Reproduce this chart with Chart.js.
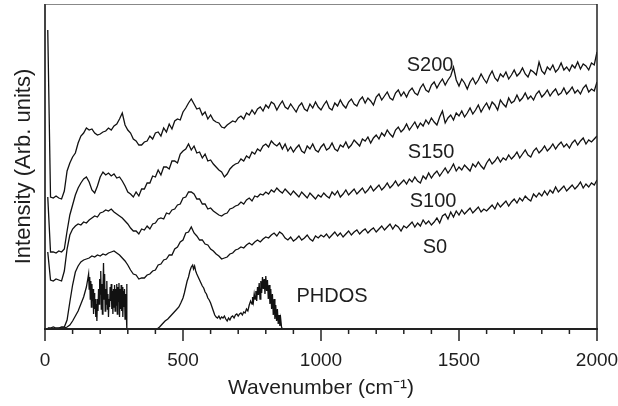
<!DOCTYPE html>
<html>
<head>
<meta charset="utf-8">
<script src="https://cdn.jsdelivr.net/npm/chart.js"></script>
<style>
  html, body { margin: 0; padding: 0; background: #fff; }
  #wrap { width: 618px; height: 406px; }
</style>
</head>
<body>
<div id="wrap"><canvas id="raman" width="618" height="406"></canvas></div>
<script>
// wavenumber grid of the measured spectra (cm-1)
const wavenumber = [
  10, 20, 30, 40, 50, 60, 70, 80, 90, 100,
  110, 120, 130, 140, 150, 160, 170, 180, 190, 200,
  210, 220, 230, 240, 250, 260, 270, 280, 290, 300,
  310, 320, 330, 340, 350, 360, 370, 380, 390, 400,
  410, 420, 430, 440, 450, 460, 470, 480, 490, 500,
  510, 520, 530, 540, 550, 560, 570, 580, 590, 600,
  610, 620, 630, 640, 650, 660, 670, 680, 690, 700,
  710, 720, 730, 740, 750, 760, 770, 780, 790, 800,
  810, 820, 830, 840, 850, 860, 870, 880, 890, 900,
  910, 920, 930, 940, 950, 960, 970, 980, 990, 1000,
  1010, 1020, 1030, 1040, 1050, 1060, 1070, 1080, 1090, 1100,
  1110, 1120, 1130, 1140, 1150, 1160, 1170, 1180, 1190, 1200,
  1210, 1220, 1230, 1240, 1250, 1260, 1270, 1280, 1290, 1300,
  1310, 1320, 1330, 1340, 1350, 1360, 1370, 1380, 1390, 1400,
  1410, 1420, 1430, 1440, 1450, 1460, 1470, 1480, 1490, 1500,
  1510, 1520, 1530, 1540, 1550, 1560, 1570, 1580, 1590, 1600,
  1610, 1620, 1630, 1640, 1650, 1660, 1670, 1680, 1690, 1700,
  1710, 1720, 1730, 1740, 1750, 1760, 1770, 1780, 1790, 1800,
  1810, 1820, 1830, 1840, 1850, 1860, 1870, 1880, 1890, 1900,
  1910, 1920, 1930, 1940, 1950, 1960, 1970, 1980, 1990, 2000
];

// intensities (arb. units, curves already offset as in the figure)
const s200 = [
  299, 132, 131, 133, 131, 130, 138, 158, 166, 172,
  176, 186, 193, 196, 201, 199, 200, 196, 194, 195,
  197, 198, 201, 199, 203, 205, 210, 216, 204, 199,
  196, 190, 188, 184, 184, 187, 188, 193, 190, 196,
  197, 193, 201, 197, 205, 200, 208, 210, 209, 217,
  221, 226, 230, 225, 220, 221, 214, 217, 210, 214,
  209, 207, 206, 202, 201, 204, 206, 208, 207, 211,
  213, 210, 216, 214, 219, 215, 220, 222, 218, 224,
  221, 227, 225, 219, 224, 228, 222, 220, 225, 221,
  217, 223, 226, 220, 218, 225, 221, 227, 222, 219,
  224, 228, 221, 219, 226, 223, 229, 224, 221, 227,
  230, 225, 223, 229, 232, 226, 231, 228, 224, 232,
  235, 229, 233, 237, 231, 229, 236, 239, 233, 237,
  232, 238, 241, 236, 234, 241, 245, 239, 237, 244,
  247, 241, 246, 250, 244, 249, 253, 262, 249, 243,
  250, 246, 240, 247, 251, 245, 249, 255, 250, 246,
  253, 258, 251, 248, 255, 252, 257, 250, 254, 259,
  253, 256, 261, 255, 252, 259, 257, 254, 267, 258,
  255, 262, 259, 264, 257, 260, 266, 259, 262, 258,
  264, 261, 267, 260, 265, 263, 259, 266, 264, 277
];

const s150 = [
  132, 77, 77, 76, 78, 77, 80, 98, 114, 124,
  134, 141, 146, 150, 152, 147, 139, 136, 143, 152,
  157, 154, 156, 153, 155, 151, 152, 148, 143, 137,
  135, 132, 137, 133, 140, 140, 146, 146, 153, 152,
  159, 154, 162, 162, 160, 168, 168, 166, 175, 178,
  180, 185, 179, 183, 176, 177, 171, 175, 168, 169,
  165, 162, 159, 157, 152, 155, 160, 163, 165, 166,
  170, 168, 173, 171, 177, 175, 180, 178, 183, 185,
  182, 188, 185, 183, 186, 180, 185, 178, 182, 177,
  181, 184, 178, 176, 183, 180, 185, 179, 177, 182,
  185, 179, 181, 186, 180, 178, 184, 182, 187, 181,
  184, 189, 186, 183, 190, 188, 192, 186, 191, 194,
  190, 196, 193, 199, 195, 192, 199, 202, 197, 200,
  205, 199, 203, 207, 201, 206, 203, 209, 205, 211,
  207, 204, 212, 218, 206, 211, 214, 209, 216, 213,
  218, 212, 216, 221, 215, 219, 224, 217, 222, 226,
  220, 227, 224, 219, 229, 225, 222, 231, 226, 228,
  234, 228, 231, 236, 230, 233, 229, 235, 238, 232,
  235, 239, 233, 237, 240, 234, 236, 241, 235, 238,
  242, 236, 239, 235, 241, 244, 237, 240, 238, 247
];

const s100 = [
  77, 49, 48, 50, 49, 48, 58, 80, 94, 100,
  103, 105, 104, 107, 106, 109, 111, 113, 112, 116,
  117, 119, 118, 120, 117, 115, 113, 111, 108, 105,
  101, 98, 98, 95, 100, 99, 103, 100, 105, 106,
  110, 111, 110, 116, 115, 119, 120, 124, 125, 131,
  132, 137, 137, 135, 130, 130, 125, 125, 120, 121,
  118, 116, 114, 113, 115, 116, 120, 121, 123, 124,
  127, 125, 129, 131, 128, 133, 132, 135, 134, 137,
  135, 139, 137, 141, 138, 136, 140, 137, 134, 138,
  135, 132, 137, 134, 131, 136, 133, 130, 134, 132,
  136, 133, 131, 137, 134, 138, 132, 135, 139, 134,
  137, 140, 135, 138, 141, 136, 139, 143, 138, 141,
  144, 139, 142, 146, 141, 144, 148, 143, 146, 149,
  145, 150, 147, 152, 148, 146, 153, 150, 156, 151,
  155, 158, 153, 157, 161, 156, 160, 165, 158, 162,
  159, 164, 161, 158, 165, 162, 167, 163, 160, 166,
  170, 165, 168, 172, 167, 171, 169, 174, 170, 173,
  177, 171, 175, 179, 174, 172, 178, 181, 176, 179,
  183, 178, 181, 185, 180, 184, 187, 182, 185, 181,
  186, 189, 184, 188, 191, 185, 189, 187, 190, 193
];

const s0 = [
  1, 1, 2, 1, 1, 2, 2, 9, 27, 44,
  57, 63, 67, 69, 70, 71, 73, 72, 74, 73,
  75, 74, 76, 77, 78, 76, 74, 71, 68, 64,
  59, 55, 54, 50, 51, 51, 54, 55, 58, 59,
  64, 65, 69, 70, 74, 74, 80, 82, 87, 89,
  96, 97, 102, 96, 93, 89, 89, 85, 84, 80,
  78, 75, 73, 70, 71, 72, 75, 76, 79, 80,
  82, 81, 84, 86, 84, 87, 89, 87, 90, 92,
  91, 94, 96, 93, 97, 95, 91, 89, 92, 88,
  90, 93, 89, 91, 94, 90, 88, 93, 91, 94,
  92, 95, 91, 94, 97, 93, 96, 92, 95, 98,
  94, 97, 99, 95, 98, 100, 96, 99, 101, 97,
  100, 103, 99, 102, 105, 100, 104, 102, 98, 103,
  101, 104, 107, 102, 106, 103, 109, 105, 108, 104,
  107, 111, 106, 113, 115, 110, 117, 112, 118, 114,
  119, 115, 118, 121, 116, 119, 122, 117, 120, 118,
  121, 124, 120, 126, 122, 125, 128, 123, 127, 130,
  126, 131, 128, 133, 130, 128, 135, 132, 136, 133,
  138, 134, 139, 136, 142, 137, 140, 143, 138, 141,
  144, 140, 143, 147, 141, 145, 142, 146, 144, 149
];

// calculated phonon density of states (gap between 300 and 400 cm-1)
const phdosWavenumber = [
  20, 40, 60, 70, 80, 90, 100, 110, 120, 130, 140, 150, 155, 158,
  160, 162, 164, 166, 168, 170, 172, 174, 176, 178, 180, 182, 184, 186, 188,
  190, 192, 194, 196, 198, 200, 202, 204, 206, 208, 210, 212, 214, 216, 218,
  220, 222, 224, 226, 228, 230, 232, 234, 236, 238, 240, 242, 244, 246, 248,
  250, 252, 254, 256, 258, 260, 262, 264, 266, 268, 270, 272, 274, 276, 278,
  280, 282, 284, 286, 288, 290, 292, 294, 296, 297, 350,
  406, 415, 425, 435, 445, 455, 465, 475, 485, 492, 500, 505, 510, 515, 520,
  525, 530, 535, 538, 542, 546, 550, 555, 560, 565, 570, 575, 580, 585, 590,
  595, 600, 605, 610, 615, 620, 625, 630, 635, 640, 645, 650, 655, 660, 665,
  670, 675, 680, 685, 690, 695, 700, 705, 710, 715, 720, 725, 730, 735, 740,
  745, 750, 752, 755, 758, 761, 764, 767, 770, 773, 776, 779, 782, 785, 788,
  791, 794, 797, 800, 803, 806, 809, 812, 815, 818, 821, 824, 827, 830, 833,
  836, 839, 842, 845, 848, 851, 854, 857, 860
];
const phdosIntensity = [
  0, 0, 1, 1, 2, 4, 8, 13, 18, 25, 32, 42, 50, 55,
  40, 52, 30, 48, 22, 45, 28, 40, 15, 36, 20, 30, 12, 25, 8,
  30, 18, 40, 25, 50, 35, 58, 20, 45, 15, 38, 66, 30, 55, 18,
  40, 25, 48, 20, 35, 12, 30, 22, 42, 28, 45, 20, 38, 15, 40,
  22, 44, 18, 40, 24, 45, 15, 42, 28, 46, 12, 40, 20, 44, 18,
  42, 12, 38, 22, 40, 10, 35, 20, 45, 0, null,
  0, 2, 5, 8, 10, 13, 16, 19, 22, 26, 31, 36, 42, 48, 52,
  58, 62, 64, 60, 63, 58, 55, 52, 49, 46, 43, 41, 37, 35, 31,
  29, 26, 22, 18, 14, 12, 11, 13, 10, 12, 11, 13, 10, 8, 11,
  9, 12, 13, 11, 14, 15, 13, 15, 16, 14, 17, 16, 20, 18, 24,
  28, 25, 32, 27, 35, 30, 38, 28, 42, 34, 46, 30, 48, 36, 52,
  40, 50, 35, 53, 38, 49, 30, 44, 25, 40, 20, 35, 14, 30, 10,
  24, 8, 20, 5, 14, 3, 10, 2, 0
];

const curveLabels = ['S200', 'S150', 'S100', 'S0', 'PHDOS'];
const labelWavenumber = [1395, 1399, 1406, 1413, 1040];
const labelIntensity = [264, 177, 128, 82, 33];

const ink = '#111';
const textColor = '#1e1e1e';

const toPoints = (xs, ys) => xs.map((x, i) => ({ x: x, y: ys[i] }));

const lineSet = (data, width) => ({
  data: data,
  borderColor: ink,
  borderWidth: width,
  pointRadius: 0,
  tension: 0,
  spanGaps: false,
  fill: false
});

// frame, tick marks and curve names
const decorations = {
  id: 'decorations',
  afterDatasetsDraw(chart) {
    const { ctx, chartArea: a, scales: { x, y } } = chart;
    ctx.save();
    ctx.lineCap = 'butt';

    ctx.strokeStyle = '#888';
    ctx.lineWidth = 1;
    ctx.beginPath();
    ctx.moveTo(a.left, a.top + 0.5);
    ctx.lineTo(a.right, a.top + 0.5);
    ctx.stroke();

    ctx.strokeStyle = '#222';
    ctx.lineWidth = 1.5;
    ctx.beginPath();
    ctx.moveTo(a.right, a.top);
    ctx.lineTo(a.right, a.bottom);
    ctx.stroke();

    ctx.strokeStyle = '#444';
    ctx.lineWidth = 2;
    ctx.beginPath();
    ctx.moveTo(a.left, a.top);
    ctx.lineTo(a.left, a.bottom);
    ctx.stroke();

    ctx.strokeStyle = '#222';
    ctx.beginPath();
    ctx.moveTo(a.left - 1, a.bottom);
    ctx.lineTo(a.right + 1, a.bottom);
    ctx.stroke();

    ctx.lineWidth = 1.5;
    for (let v = 0; v <= 2000; v += 100) {
      const px = x.getPixelForValue(v);
      const len = v % 500 === 0 ? 12 : 5;
      ctx.beginPath();
      ctx.moveTo(px, a.bottom);
      ctx.lineTo(px, a.bottom + len);
      ctx.stroke();
    }

    ctx.fillStyle = textColor;
    ctx.font = '20px "Liberation Sans", Arial, sans-serif';
    ctx.textAlign = 'center';
    ctx.textBaseline = 'middle';
    curveLabels.forEach((t, i) => {
      ctx.fillText(t, x.getPixelForValue(labelWavenumber[i]), y.getPixelForValue(labelIntensity[i]));
    });
    ctx.restore();
  }
};

new Chart(document.getElementById('raman').getContext('2d'), {
  type: 'line',
  data: {
    datasets: [
      lineSet(toPoints(wavenumber, s200), 1.3),
      lineSet(toPoints(wavenumber, s150), 1.3),
      lineSet(toPoints(wavenumber, s100), 1.3),
      lineSet(toPoints(wavenumber, s0), 1.3),
      lineSet(toPoints(phdosWavenumber, phdosIntensity), 1.3)
    ]
  },
  options: {
    responsive: false,
    animation: false,
    devicePixelRatio: 1,
    layout: { padding: { top: 4, right: 21, left: 0, bottom: 0 } },
    plugins: { legend: { display: false }, tooltip: { enabled: false } },
    scales: {
      x: {
        type: 'linear',
        min: 0,
        max: 2000,
        grid: { display: false, drawTicks: false },
        border: { display: false },
        ticks: {
          stepSize: 500,
          padding: 20,
          color: textColor,
          maxRotation: 0,
          font: { family: '"Liberation Sans", Arial, sans-serif', size: 19 },
          callback: (v) => String(v)
        },
        title: {
          display: true,
          text: 'Wavenumber (cm\u207B\u00B9)',
          color: textColor,
          font: { family: '"Liberation Sans", Arial, sans-serif', size: 21, lineHeight: 1 },
          padding: { top: 0, bottom: 7 }
        },
        afterFit(scale) {
          scale.height = 77;
          scale.paddingLeft = 0;
          scale.paddingRight = 0;
        }
      },
      y: {
        min: 0,
        max: 325,
        grid: { display: false, drawTicks: false },
        border: { display: false },
        ticks: { display: false },
        title: {
          display: true,
          text: 'Intensity (Arb. units)',
          color: textColor,
          font: { family: '"Liberation Sans", Arial, sans-serif', size: 22, lineHeight: 1 },
          padding: { top: 13, bottom: 0 }
        },
        afterFit(scale) {
          scale.width = 45;
        }
      }
    }
  },
  plugins: [decorations]
});
</script>
</body>
</html>
